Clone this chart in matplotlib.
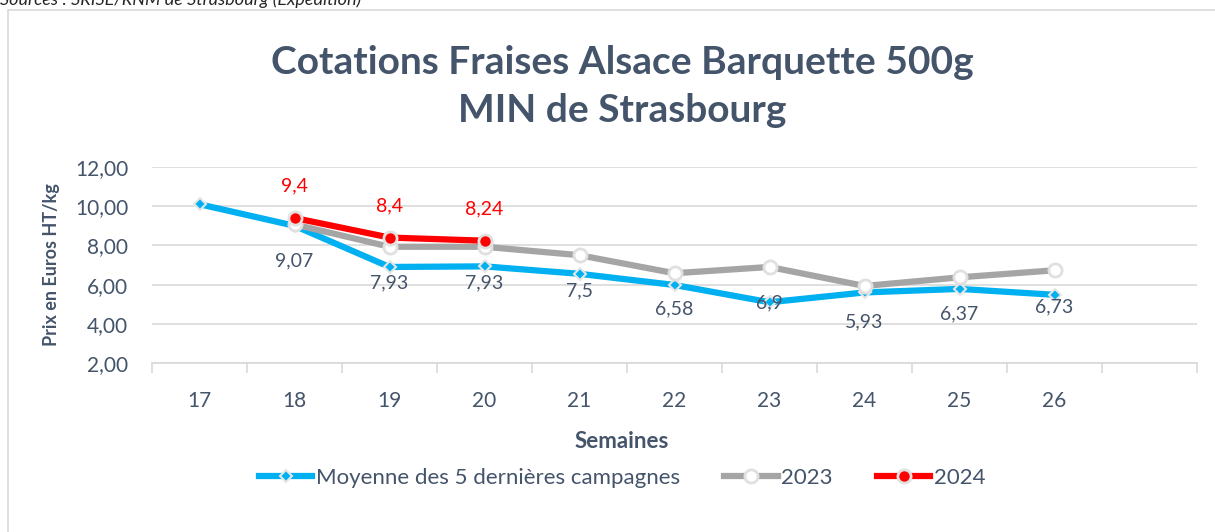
import numpy as np
import matplotlib.pyplot as plt
from matplotlib.patches import Rectangle

plt.rcParams['font.family'] = ['Lato', 'DejaVu Sans']

# ========== DATA ==========
weeks = ['17', '18', '19', '20', '21', '22', '23', '24', '25', '26', '']
moyenne = [10.1, 9.0, 6.9, 6.93, 6.55, 5.98, 5.1, 5.6, 5.78, 5.48]
y2023 = [None, 9.07, 7.93, 7.93, 7.5, 6.58, 6.9, 5.93, 6.37, 6.73]
y2024 = [None, 9.4, 8.4, 8.24]

TXT = '#44546A'
COLORS = {'moy': '#00B0F0', '2023': '#A5A5A5', '2024': '#FF0000', 'grid': '#D9D9D9'}

fig = plt.figure(figsize=(12.15, 5.32), dpi=100)
ax = fig.add_axes([152 / 1215, 1 - 363 / 532, 1045 / 1215, 196 / 532])

# chart frame + source line
fig.patches.append(Rectangle((8 / 1215, -0.1), 1.2, 1 - 10 / 532 + 0.1, transform=fig.transFigure,
                             fill=False, edgecolor=COLORS['grid'], lw=1.2))
fig.text(0.0, 1 - 5 / 532, "Sources : SRISE/RNM de Strasbourg (Expédition)", style='italic',
         fontsize=13, color='#262626', va='baseline', ha='left')


def series(vals):
    idx = [i for i, v in enumerate(vals) if v is not None]
    return np.array(idx), np.array([vals[i] for i in idx])


x, y = series(moyenne)
ax.plot(x, y, color=COLORS['moy'], lw=4.5, marker='D', ms=6.5, mfc=COLORS['moy'],
        mec='#E7E6E6', mew=1.5, label='Moyenne des 5 dernières campagnes', zorder=3)
x, y = series(y2023)
ax.plot(x, y, color=COLORS['2023'], lw=4.5, marker='o', ms=9.5, mfc='white',
        mec='#E0E0E0', mew=2, label='2023', zorder=4)
for xi, yi in zip(x, y):
    ax.annotate(f"{yi:g}".replace('.', ','), (xi, yi), xytext=(0, -26), textcoords='offset points',
                ha='center', va='center', fontsize=14, color=TXT, zorder=6)
x, y = series(y2024)
ax.plot(x, y, color=COLORS['2024'], lw=4.5, marker='o', ms=9.5, mfc=COLORS['2024'],
        mec='#E0E0E0', mew=2, label='2024', zorder=5)
for xi, yi in zip(x, y):
    ax.annotate(f"{yi:g}".replace('.', ','), (xi, yi), xytext=(0, 23), textcoords='offset points',
                ha='center', va='center', fontsize=14, color=COLORS['2024'], zorder=6)

ax.set_xlim(-0.5, len(weeks) - 0.5)
ax.set_ylim(2, 12)
ax.set_yticks(np.arange(2, 13, 2))
ax.set_yticklabels([f"{v:.2f}".replace('.', ',') for v in np.arange(2, 13, 2)])
ax.set_xticks(range(len(weeks)))
ax.set_xticklabels(weeks)
ax.set_xticks(np.arange(-0.5, len(weeks), 1), minor=True)
ax.tick_params(axis='x', which='major', length=0, pad=20, labelsize=15, labelcolor=TXT)
ax.tick_params(axis='x', which='minor', length=7, color=COLORS['grid'], width=1.2)
ax.tick_params(axis='y', length=0, pad=17, labelsize=15, labelcolor=TXT)
ax.grid(axis='y', color=COLORS['grid'], lw=1.2)
ax.set_axisbelow(True)
for s in ['top', 'right', 'left']:
    ax.spines[s].set_visible(False)
ax.spines['bottom'].set_color(COLORS['grid'])
ax.spines['bottom'].set_linewidth(1.2)

ax.set_ylabel("Prix en Euros HT/kg", fontsize=13, fontweight='bold', color=TXT)
ax.yaxis.set_label_coords((60 - 152) / 1045, 0.5)
fig.text(622 / 1215, 1 - 441 / 532, "Semaines", fontsize=16, fontweight='bold', color=TXT,
         ha='center', va='center')

fig.text(622 / 1215, 1 - 62 / 532, "Cotations Fraises Alsace Barquette 500g", fontsize=28,
         fontweight='bold', color=TXT, ha='center', va='center')
fig.text(622 / 1215, 1 - 110 / 532, "MIN de Strasbourg", fontsize=28,
         fontweight='bold', color=TXT, ha='center', va='center')

fig.legend(loc='center', bbox_to_anchor=(622 / 1215, 1 - 478 / 532), ncol=3, frameon=False,
           fontsize=16, labelcolor=TXT, handlelength=2.4, handletextpad=0.15, columnspacing=2.0)

fig.savefig('out.png', dpi=100, facecolor='white')
